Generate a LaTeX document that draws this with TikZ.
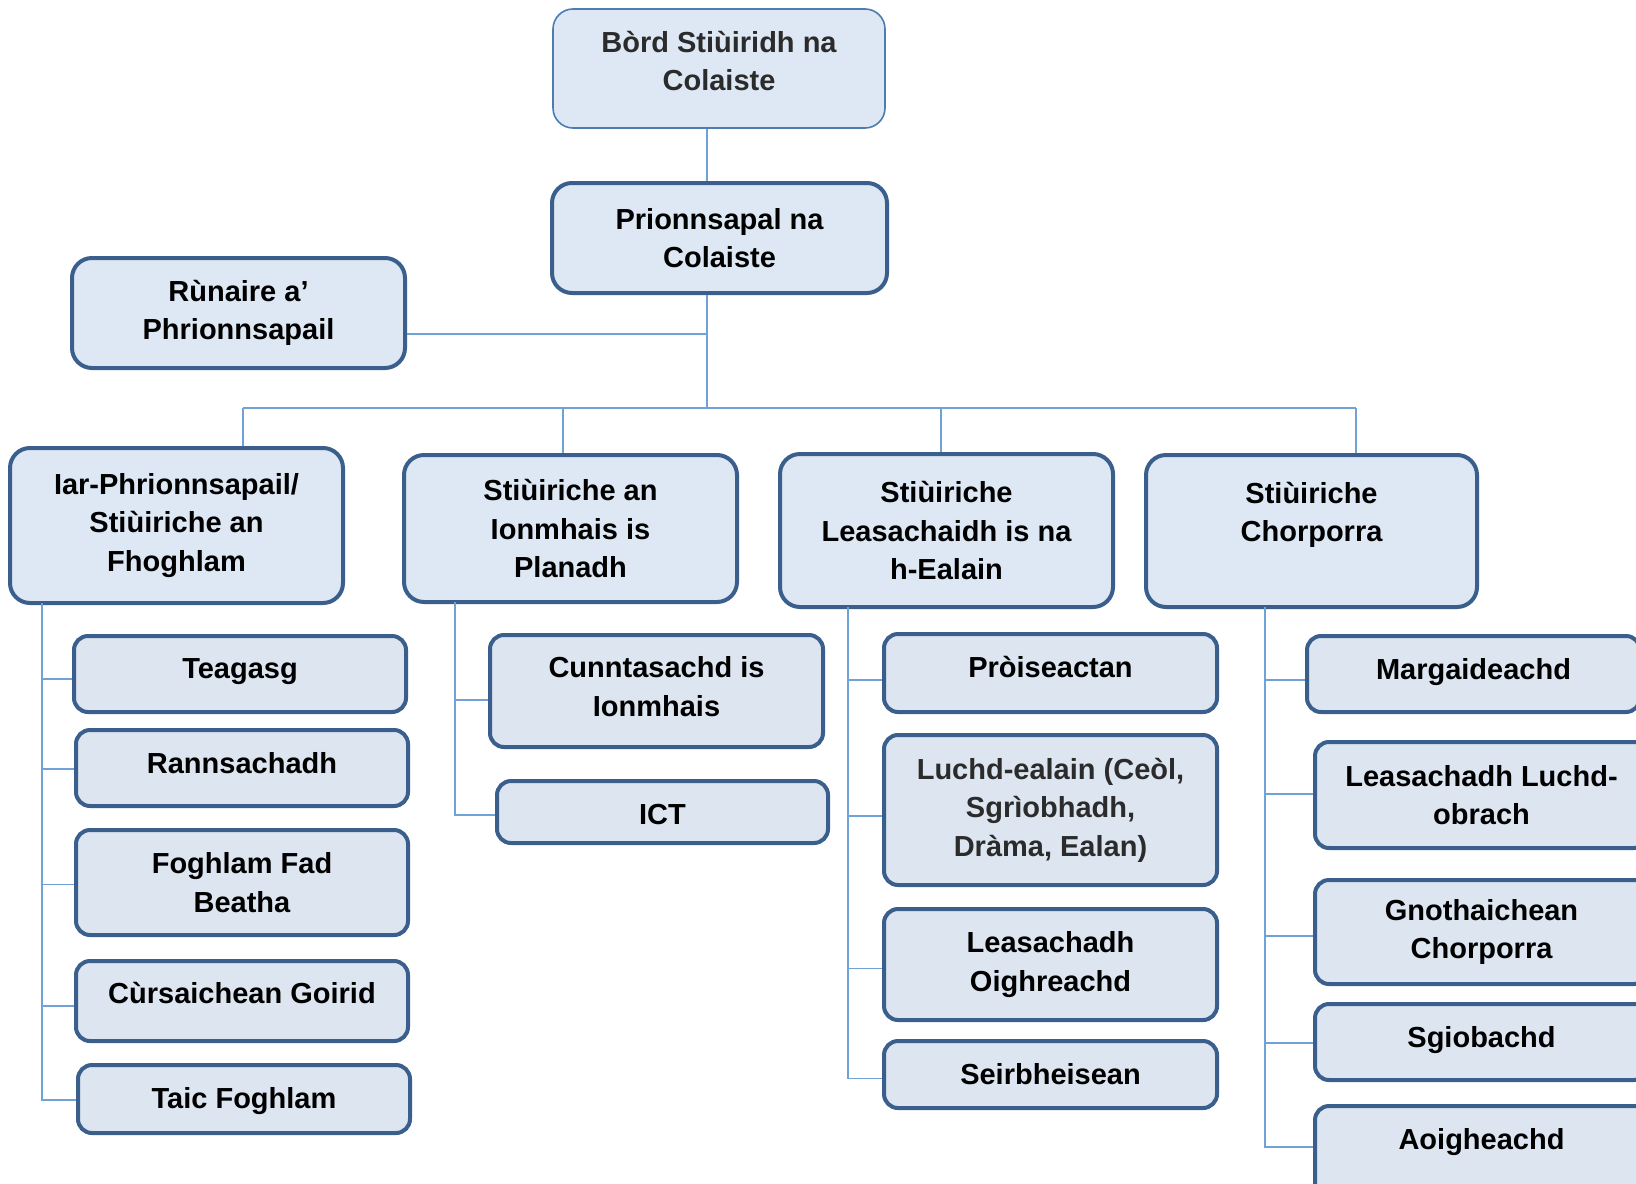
\documentclass[tikz,border=0pt]{standalone}
\usepackage{fontspec}
\setmainfont{Liberation Sans}
\usetikzlibrary{calc}
\definecolor{boxfill}{HTML}{DDE8F4}
\definecolor{childfill}{HTML}{DCE5F0}
\definecolor{thickline}{HTML}{3B5F8C}
\definecolor{thinline}{HTML}{4C7CB0}
\definecolor{connline}{HTML}{6FA3D8}
\definecolor{graytext}{HTML}{2B2B2B}
\tikzset{
  orgbox/.style={draw=thickline, line width=2pt, fill=boxfill, rounded corners=10pt,
    align=center, inner sep=0pt, font=\bfseries\fontsize{14.5}{19.3}\selectfont, text=black},
  kidbox/.style={orgbox, fill=childfill, rounded corners=7pt},
  thinbox/.style={orgbox, line width=0.8pt, draw=thinline},
  conn/.style={draw=connline, line width=0.75pt},
}
\begin{document}
\begin{tikzpicture}[x=0.5pt, y=-0.5pt]
\useasboundingbox (0,0) rectangle (1636,1183);
\clip (0,0) rectangle (1636,1183);

% top
\node[thinbox, text=graytext, text depth=7.5pt, minimum width=166pt, minimum height=59.5pt] (bord) at (719,68.5) {Bòrd Stiùiridh na\\Colaiste};
\node[orgbox, minimum width=167.5pt, minimum height=55pt] (prin) at (719.5,238) {Prionnsapal na\\Colaiste};
\node[orgbox, minimum width=166.5pt, minimum height=55pt] (runaire) at (238.5,313) {Rùnaire a’\\Phrionnsapail};

% level 2
\node[orgbox, minimum width=166.5pt, minimum height=77.5pt] (iar) at (176.5,525.5) {Iar-Phrionnsapail/\\Stiùiriche an\\Fhoghlam};
\node[orgbox, minimum width=166.5pt, minimum height=73.5pt] (ionm) at (570.5,528.5) {Stiùiriche an\\Ionmhais is\\Planadh};
\node[orgbox, minimum width=166.5pt, minimum height=76.5pt] (leas) at (946.5,530.5) {Stiùiriche\\Leasachaidh is na\\h-Ealain};
\node[orgbox, minimum width=165.5pt, minimum height=76pt] (chor) at (1311.5,531) {Stiùiriche\\Chorporra\\\mbox{}};

% column 1
\node[kidbox, text depth=5.2pt, minimum width=166pt, minimum height=38pt] (teag) at (240,674) {Teagasg};
\node[kidbox, text depth=5.4pt, minimum width=166pt, minimum height=38pt] (rann) at (242,768) {Rannsachadh};
\node[kidbox, minimum width=166pt, minimum height=52.5pt] (fogh) at (242,882.5) {Foghlam Fad\\Beatha};
\node[kidbox, text depth=8.5pt, minimum width=166pt, minimum height=40pt] (curs) at (242,1001) {Cùrsaichean Goirid};
\node[kidbox, text height=12.6pt, minimum width=166pt, minimum height=34pt] (taic) at (244,1099) {Taic Foghlam};

% column 2
\node[kidbox, text depth=4.4pt, minimum width=166.5pt, minimum height=56pt] (cunn) at (656.5,691) {Cunntasachd is\\Ionmhais};
\node[kidbox, text height=12.5pt, minimum width=165.5pt, minimum height=31pt] (ict) at (662.5,812) {ICT};

% column 3
\node[kidbox, text depth=6.5pt, minimum width=166.5pt, minimum height=39pt] (proi) at (1050.5,673) {Pròiseactan};
\node[kidbox, text=graytext, minimum width=166.5pt, minimum height=75pt] (luch) at (1050.5,810) {Luchd-ealain (Ceòl,\\Sgrìobhadh,\\Dràma, Ealan)};
\node[kidbox, minimum width=166.5pt, minimum height=55.5pt] (oigh) at (1050.5,964.5) {Leasachadh\\Oighreachd};
\node[kidbox, minimum width=166.5pt, minimum height=33.5pt] (seir) at (1050.5,1074.5) {Seirbheisean};

% column 4
\node[kidbox, text depth=5.2pt, minimum width=166.5pt, minimum height=38pt] (marg) at (1473.5,674) {Margaideachd};
\node[kidbox, minimum width=166.5pt, minimum height=53pt] (luob) at (1481.5,795) {Leasachadh Luchd-\\obrach};
\node[kidbox, minimum width=166.5pt, minimum height=52pt] (gnot) at (1481.5,932) {Gnothaichean\\Chorporra};
\node[kidbox, text depth=5.2pt, minimum width=166.5pt, minimum height=38pt] (sgio) at (1481.5,1042) {Sgiobachd};
\node[kidbox, text depth=16.7pt, minimum width=166.5pt, minimum height=50pt] (aoig) at (1481.5,1156) {Aoigheachd};

% connectors top
\coordinate (spine) at (707,408);
\coordinate (d1) at (243,408);
\coordinate (d2) at (563,408);
\coordinate (d3) at (941,408);
\coordinate (d4) at (1356,408);
\draw[conn] (bord.south -| spine) -- (prin.north -| spine);
\draw[conn] (prin.south -| spine) -- (spine);
\draw[conn] ($(runaire.east)+(0,21)$) -- ($(runaire.east -| spine)+(0,21)$);
\draw[conn] (d1) -- (d4);
\draw[conn] (d1) -- (d1 |- iar.north);
\draw[conn] (d2) -- (d2 |- ionm.north);
\draw[conn] (d3) -- (d3 |- leas.north);
\draw[conn] (d4) -- (d4 |- chor.north);

% column trunks
\coordinate (c1) at (42,603);
\coordinate (c2) at (455,602);
\coordinate (c3) at (848,607);
\coordinate (c4) at (1265,607);
\foreach \k/\dy in {teag/5,rann/1,fogh/2,curs/5,taic/1} \draw[conn] (c1) |- ($(\k.west)+(0,\dy)$);
\foreach \k/\dy in {cunn/9,ict/3} \draw[conn] (c2) |- ($(\k.west)+(0,\dy)$);
\foreach \k/\dy in {proi/7,luch/6,oigh/4,seir/4} \draw[conn] (c3) |- ($(\k.west)+(0,\dy)$);
\foreach \k/\dy in {marg/6,luob/-1,gnot/4,sgio/1,aoig/-9} \draw[conn] (c4) |- ($(\k.west)+(0,\dy)$);
\end{tikzpicture}
\end{document}
